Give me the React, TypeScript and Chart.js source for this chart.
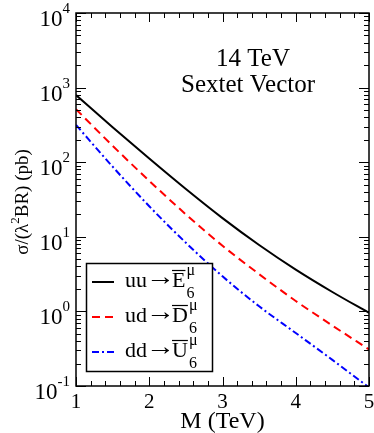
import React, { useEffect, useRef } from "react";
import { Chart, registerables } from "chart.js";

Chart.register(...registerables);

const massTeV = [1, 1.5, 2, 2.5, 3, 3.5, 4, 4.5, 5];
const uuE6 = [794, 295, 112, 43.7, 17.8, 7.76, 3.63, 1.82, 0.955];
const udD6 = [513, 166, 56.2, 20.0, 7.59, 3.16, 1.38, 0.646, 0.309];
const ddU6 = [316, 87.1, 25.7, 8.32, 2.95, 1.17, 0.513, 0.224, 0.0955];

const xTicks = [1, 2, 3, 4, 5];
const yDecades = [-1, 0, 1, 2, 3, 4];

const legendRows = [
  { pre: "uu", base: "E", color: "#000000", dash: [] as number[] },
  { pre: "ud", base: "D", color: "#ff0000", dash: [8, 5] },
  { pre: "dd", base: "U", color: "#0000ff", dash: [7, 3, 2, 3] },
];

const SERIF = '"Liberation Serif", "DejaVu Serif", serif';

const axesPlugin = {
  id: "xmgrAxes",
  afterDraw(chart: any) {
    const ctx = chart.ctx as CanvasRenderingContext2D;
    const { left, right, top, bottom } = chart.chartArea;
    const xs = chart.scales.x;
    const ys = chart.scales.y;
    ctx.save();
    ctx.strokeStyle = "#000";
    ctx.fillStyle = "#000";
    ctx.lineWidth = 1.5;
    ctx.strokeRect(left, top, right - left, bottom - top);

    ctx.lineWidth = 1;
    ctx.beginPath();
    for (let v = 1; v <= 5.0001; v += 0.2) {
      const px = Math.round(xs.getPixelForValue(v)) + 0.5;
      const major = Math.abs(v - Math.round(v)) < 1e-6;
      const len = major ? 9 : 5;
      ctx.moveTo(px, bottom);
      ctx.lineTo(px, bottom - len);
      ctx.moveTo(px, top);
      ctx.lineTo(px, top + len);
    }
    for (let d = -1; d <= 4; d++) {
      for (let m = 1; m <= 9; m++) {
        if (d === 4 && m > 1) break;
        const val = m * Math.pow(10, d);
        const py = Math.round(ys.getPixelForValue(val)) + 0.5;
        const len = m === 1 ? 10 : 5;
        ctx.moveTo(left, py);
        ctx.lineTo(left + len, py);
        ctx.moveTo(right, py);
        ctx.lineTo(right - len, py);
      }
    }
    ctx.stroke();

    // x tick labels
    ctx.font = `21px ${SERIF}`;
    ctx.textAlign = "center";
    ctx.textBaseline = "alphabetic";
    xTicks.forEach((v) => {
      ctx.fillText(String(v), xs.getPixelForValue(v), bottom + 22);
    });

    // y tick labels 10^n
    yDecades.forEach((d) => {
      const py = ys.getPixelForValue(Math.pow(10, d));
      const expStr = d < 0 ? "-" + Math.abs(d) : String(d);
      ctx.font = `15px ${SERIF}`;
      const ew = ctx.measureText(expStr).width;
      const xr = left - 6;
      ctx.textAlign = "right";
      ctx.fillText(expStr, xr, py);
      ctx.font = `23px ${SERIF}`;
      ctx.fillText("10", xr - ew, py + 13);
    });

    // axis titles
    ctx.font = `24px ${SERIF}`;
    ctx.textAlign = "center";
    ctx.fillText("M (TeV)", (left + right) / 2, 428);

    ctx.save();
    ctx.translate(28, 202);
    ctx.rotate(-Math.PI / 2);
    const p1 = "\u03c3/(\u03bb";
    const p2 = "2";
    const p3 = "BR) (pb)";
    ctx.font = `19px ${SERIF}`;
    const w1 = ctx.measureText(p1).width;
    const w3 = ctx.measureText(p3).width;
    ctx.font = `13px ${SERIF}`;
    const w2 = ctx.measureText(p2).width;
    const total = w1 + w2 + w3;
    const x0 = -total / 2;
    ctx.textAlign = "left";
    ctx.font = `19px ${SERIF}`;
    ctx.fillText(p1, x0, 0);
    ctx.font = `13px ${SERIF}`;
    ctx.fillText(p2, x0 + w1, -9);
    ctx.font = `19px ${SERIF}`;
    ctx.fillText(p3, x0 + w1 + w2, 0);
    ctx.restore();

    // annotation
    ctx.font = `25px ${SERIF}`;
    ctx.textAlign = "center";
    ctx.fillText("14 TeV", 253, 66);
    ctx.fillText("Sextet Vector", 248, 92);

    // legend
    ctx.fillStyle = "#fff";
    ctx.fillRect(86.5, 263.5, 126, 108);
    ctx.strokeStyle = "#000";
    ctx.lineWidth = 1.5;
    ctx.strokeRect(86.5, 263.5, 126, 108);
    legendRows.forEach((r, i) => {
      const ly = 282 + i * 35;
      ctx.save();
      ctx.strokeStyle = r.color;
      ctx.lineWidth = 2;
      ctx.setLineDash(r.dash);
      ctx.beginPath();
      ctx.moveTo(92, ly);
      ctx.lineTo(114, ly);
      ctx.stroke();
      ctx.restore();
      const base = ly + 5;
      ctx.fillStyle = "#000";
      ctx.strokeStyle = "#000";
      ctx.textAlign = "left";
      ctx.font = `22px ${SERIF}`;
      ctx.fillText(r.pre, 125, base);
      // arrow, stretched to the reference width
      const aw = ctx.measureText("\u2192").width;
      ctx.save();
      ctx.translate(146, base - 2);
      ctx.scale(29 / aw, 1.15);
      ctx.fillText("\u2192", 0, 0);
      ctx.restore();
      let tx = 172;
      const bw = ctx.measureText(r.base).width;
      ctx.fillText(r.base, tx, base);
      ctx.lineWidth = 1.2;
      ctx.beginPath();
      ctx.moveTo(tx, base - 16.5);
      ctx.lineTo(tx + bw, base - 16.5);
      ctx.stroke();
      tx += bw + 1;
      ctx.font = `16px ${SERIF}`;
      ctx.fillText("\u03bc", tx, base - 12);
      ctx.fillText("6", tx, base + 11);
    });
    ctx.restore();
  },
};

export default function App() {
  const ref = useRef<HTMLCanvasElement | null>(null);
  useEffect(() => {
    document.body.style.margin = "0";
    const canvas = ref.current!;
    const mk = (vals: number[]) => massTeV.map((x, i) => ({ x, y: vals[i] }));
    const chart = new Chart(canvas, {
      type: "line",
      data: {
        datasets: [
          { data: mk(uuE6), borderColor: "#000000", borderWidth: 2, pointRadius: 0, cubicInterpolationMode: "monotone" },
          { data: mk(udD6), borderColor: "#ff0000", borderWidth: 2, borderDash: [8, 5], pointRadius: 0, cubicInterpolationMode: "monotone" },
          { data: mk(ddU6), borderColor: "#0000ff", borderWidth: 2, borderDash: [7, 3, 2, 3], pointRadius: 0, cubicInterpolationMode: "monotone" },
        ] as any,
      },
      options: {
        responsive: false,
        animation: false,
        devicePixelRatio: 1,
        layout: { padding: { left: 76, right: 5, top: 13, bottom: 47 } },
        plugins: { legend: { display: false }, tooltip: { enabled: false } },
        scales: {
          x: { type: "linear", min: 1, max: 5, display: false },
          y: { type: "logarithmic", min: 0.1, max: 10000, display: false },
        },
      },
      plugins: [axesPlugin],
    });
    return () => chart.destroy();
  }, []);
  return (
    <div style={{ width: 374, height: 433, background: "#fff" }}>
      <canvas ref={ref} width={374} height={433} style={{ width: 374, height: 433, display: "block" }} />
    </div>
  );
}
